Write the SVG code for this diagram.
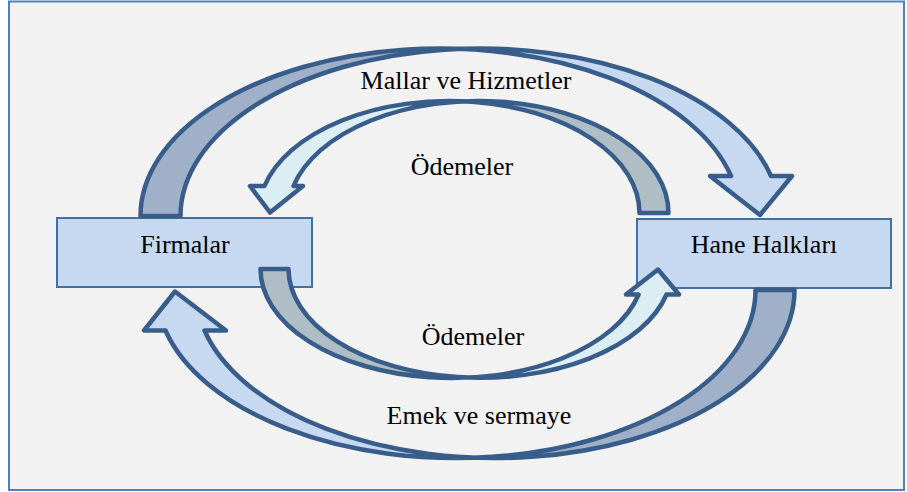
<svg xmlns="http://www.w3.org/2000/svg" width="907" height="492" viewBox="0 0 907 492">
<style>
.bg{fill:#f2f2f2;stroke:#4f81bd;stroke-width:2}
.box{fill:#c6d9f1;stroke:#41719c;stroke-width:2}
.lbl{font-family:"Liberation Serif","Times New Roman",serif;font-size:26px;fill:#000;text-anchor:middle}
.out{fill:none;stroke:#385d8a;stroke-width:4.5;stroke-linejoin:round}
.back1{fill:#9fb0c8}
.front1{fill:#c6d9f1}
.back2{fill:#afbec4}
.front2{fill:#dbeef4}
</style>
<rect class="bg" x="9" y="1.5" width="895" height="488.5"/>
<g id="firmalar">
<rect class="box" x="57" y="218" width="255" height="69"/>
<text class="lbl" x="185" y="253">Firmalar</text>
</g>
<g id="hane-halklari">
<rect class="box" x="637" y="219" width="254" height="69"/>
<text class="lbl" x="764" y="253">Hane Halkları</text>
</g>
<g id="connectors">
<g id="mallar-arrow">
<path class="back1" d="M140.5,216 A299.6,167.5 0 0 1 460.1,48.87 A299.6,167.5 0 0 0 180.5,216 Z"/>
<path class="front1" d="M460.1,48.87 A299.6,167.5 0 0 1 771.03,176 L792,176 L760,215 L710,176 L731.03,176 A299.6,167.5 0 0 0 460.1,48.87 Z"/>
<path class="out" d="M140.5,216 A299.6,167.5 0 0 1 731.03,176 L710,176 L760,215 L792,176 L771.03,176 A299.6,167.5 0 0 0 180.5,216 Z"/>
</g>
<g id="odeme-ust-arrow">
<path class="back2" d="M668.5,213 A190.3,112 0 0 0 463.7,101.33 A190.3,112 0 0 1 639.5,213 Z"/>
<path class="front2" d="M463.7,101.33 A190.3,112 0 0 0 264.5,186 L250,186 L270,212.5 L303,186 L293.5,186 A190.3,112 0 0 1 463.7,101.33 Z"/>
<path class="out" d="M668.5,213 A190.3,112 0 0 0 293.5,186 L303,186 L270,212.5 L250,186 L264.5,186 A190.3,112 0 0 1 639.5,213 Z"/>
</g>
<g id="odeme-alt-arrow">
<path class="back2" d="M260.5,269 A191.7,109 0 0 0 466.2,377.71 A191.7,109 0 0 1 288.5,269 Z"/>
<path class="front2" d="M466.2,377.71 A191.7,109 0 0 0 666.5,294.5 L679,294.5 L658,269.5 L626,294.5 L638.6,294.5 A191.7,109 0 0 1 466.2,377.71 Z"/>
<path class="out" d="M260.5,269 A191.7,109 0 0 0 638.6,294.5 L626,294.5 L658,269.5 L679,294.5 L666.5,294.5 A191.7,109 0 0 1 288.5,269 Z"/>
</g>
<g id="emek-arrow">
<path class="back1" d="M794.5,290 A299.4,168 0 0 1 475.6,457.64 A299.4,168 0 0 0 755.5,290 Z"/>
<path class="front1" d="M475.6,457.64 A299.4,168 0 0 1 165.5,330.5 L144,330.5 L175,291.5 L226,330.5 L204.5,330.5 A299.4,168 0 0 0 475.6,457.64 Z"/>
<path class="out" d="M794.5,290 A299.4,168 0 0 1 204.5,330.5 L226,330.5 L175,291.5 L144,330.5 L165.5,330.5 A299.4,168 0 0 0 755.5,290 Z"/>
</g>
</g>
<g id="labels">
<text class="lbl" x="466" y="89">Mallar ve Hizmetler</text>
<text class="lbl" x="462" y="175">Ödemeler</text>
<text class="lbl" x="473" y="345">Ödemeler</text>
<text class="lbl" x="479" y="424">Emek ve sermaye</text>
</g>
</svg>
